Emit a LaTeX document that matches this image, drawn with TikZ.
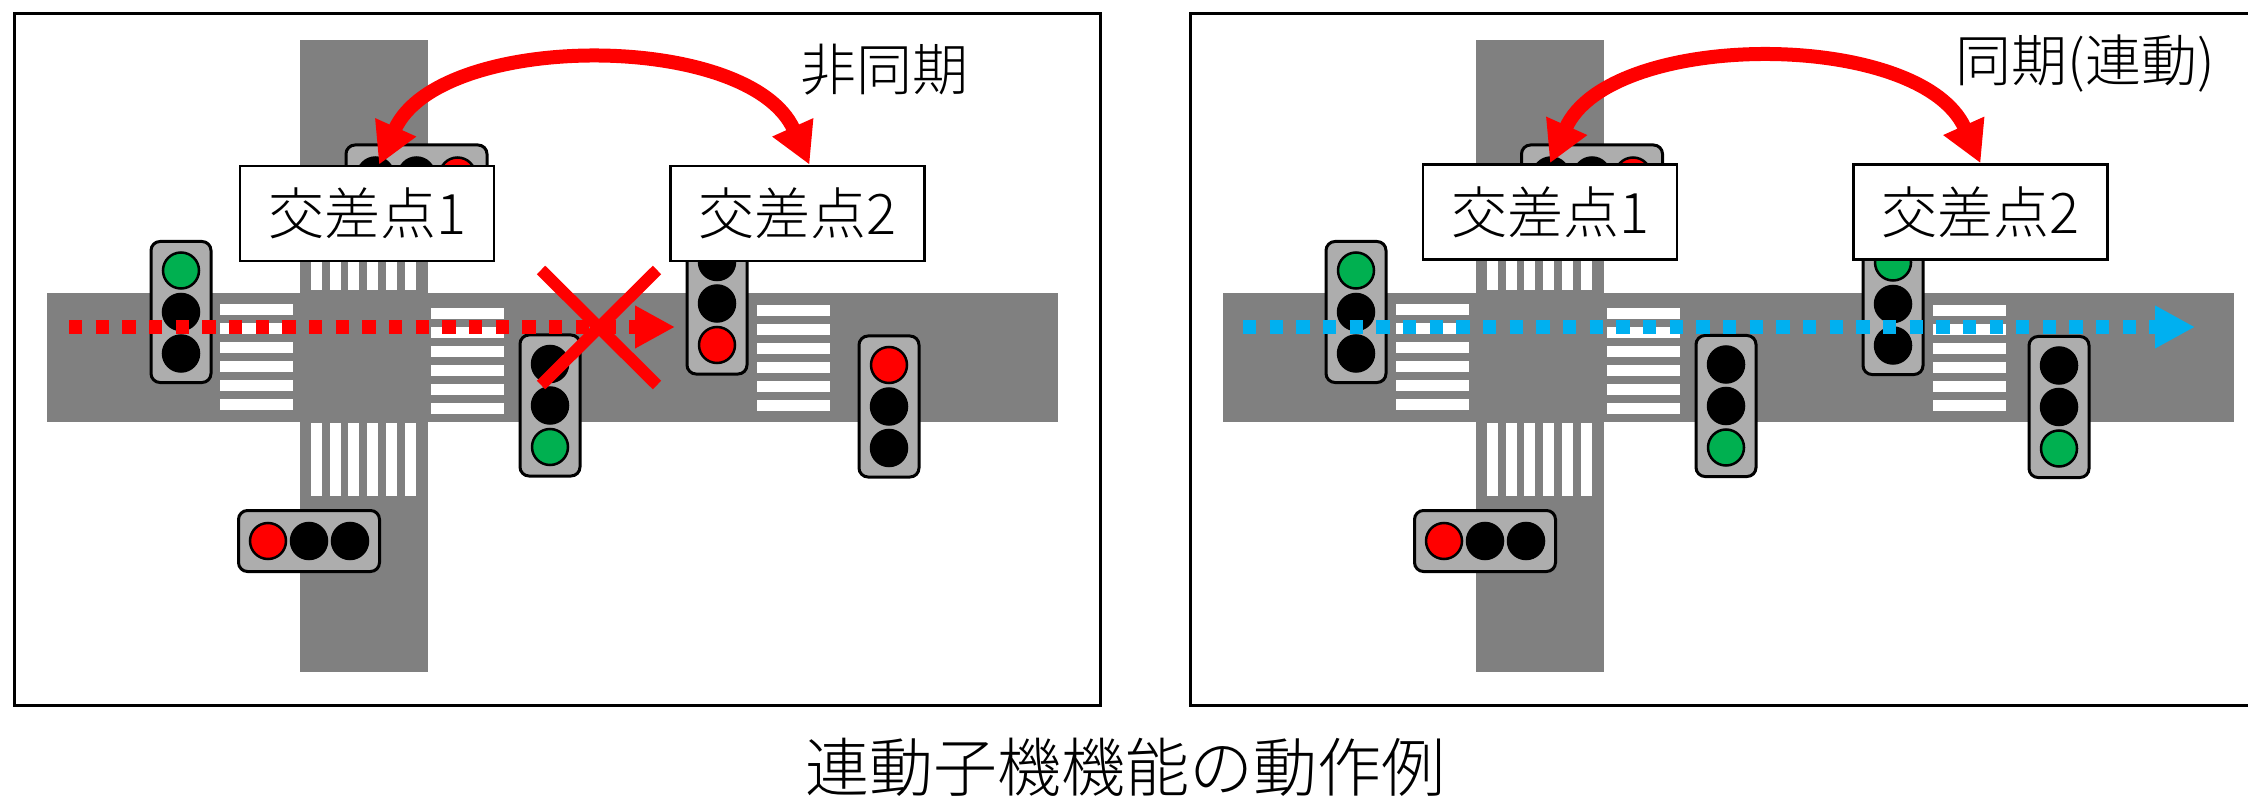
\documentclass[tikz,border=0pt]{standalone}
\usepackage{fontspec}
\setmainfont{Noto Sans CJK JP Light}
\usetikzlibrary{arrows.meta}

\definecolor{roadgray}{RGB}{128,128,128}
\definecolor{housinggray}{RGB}{173,173,173}
\definecolor{sigred}{RGB}{255,0,0}
\definecolor{siggreen}{RGB}{0,176,80}
\definecolor{sigblue}{RGB}{0,176,240}

\tikzset{
  roadarea/.style={fill=roadgray, draw=none},
  zebra/.style={fill=white, draw=none},
  sighousing/.style={fill=housinggray, draw=black, line width=3pt, rounded corners=9pt},
  lamp/.style={fill=#1, draw=black, line width=2.5pt},
  panel/.style={draw=black, line width=3pt},
  namebox/.style={draw=black, line width=2.5pt, fill=white, minimum width=254pt,
    minimum height=95pt, inner sep=0pt, font=\fontsize{56}{60}\selectfont},
  caption/.style={inner sep=0pt, font=\fontsize{56}{60}\selectfont},
  bigcaption/.style={inner sep=0pt, font=\fontsize{64}{70}\selectfont},
  linkarrow/.style={draw=sigred, line width=14pt,
    {Triangle[length=41pt,width=42pt]}-{Triangle[length=41pt,width=42pt]}},
  flowarrow/.style={draw=#1, line width=13.33pt, dash pattern=on 13.33pt off 13.33pt,
    -{Triangle[length=40pt,width=40pt]}},
  cross/.style={draw=sigred, line width=12pt}
}

% vertical signal head: centre x, centre y, top/middle/bottom lamp colours
\newcommand\vsig[5]{%
  \filldraw[sighousing] (#1-30,#2-70.5) rectangle (#1+30,#2+70.5);
  \filldraw[lamp=#3] (#1,#2-41.5) circle[radius=18pt];
  \filldraw[lamp=#4] (#1,#2) circle[radius=18pt];
  \filldraw[lamp=#5] (#1,#2+41.5) circle[radius=18pt];
}
% horizontal signal head: centre x, centre y, left/middle/right lamp colours
\newcommand\hsig[5]{%
  \filldraw[sighousing] (#1-70.5,#2-30.5) rectangle (#1+70.5,#2+30.5);
  \filldraw[lamp=#3] (#1-41,#2) circle[radius=18pt];
  \filldraw[lamp=#4] (#1,#2) circle[radius=18pt];
  \filldraw[lamp=#5] (#1+41,#2) circle[radius=18pt];
}
% zebra crossing across the vertical road: left x, top y, bottom y
\newcommand\vzebra[3]{%
  \foreach \i in {0,...,5}{\fill[zebra] (#1+\i*18.7,#2) rectangle (#1+\i*18.7+11,#3);}
}
% zebra crossing across the horizontal road: left x, top y
\newcommand\hzebra[2]{%
  \foreach \i in {0,...,5}{\fill[zebra] (#1,#2+\i*19) rectangle (#1+73,#2+\i*19+11);}
}
% road layout shared by both panels
\newcommand\streets{%
  \fill[roadarea] (47,293) rectangle (1058,422);
  \fill[roadarea] (300,40) rectangle (428,672);
  \vzebra{311}{258}{290}
  \vzebra{311}{423}{496}
  \hzebra{220}{304}
  \hzebra{431}{308}
  \hzebra{757}{305}
}

\begin{document}
\begin{tikzpicture}[x=1pt,y=-1pt]
\useasboundingbox (0,0) rectangle (2248,799);
\clip (0,0) rectangle (2248,799);

% ---------- left panel: independent control ----------
\draw[panel] (14,14) rectangle (1100,705);
\streets
\vsig{181}{312}{siggreen}{black}{black}
\hsig{416.5}{175.5}{black}{black}{sigred}
\vsig{717}{303.5}{black}{black}{sigred}
\vsig{550}{405.5}{black}{black}{siggreen}
\vsig{889}{406.5}{sigred}{black}{black}
\hsig{309}{541}{sigred}{black}{black}

\node[namebox] (a1) at (367,213.5) {交差点1};
\node[namebox] (a2) at (797.5,213.5) {交差点2};
\node[caption] (aa) at (884,70) {非同期};

\draw[linkarrow] ([xshift=12pt]a1.north) .. controls +(60,-134) and +(-60,-134) .. ([xshift=12pt]a2.north);

\coordinate (as) at (69,327);
\coordinate (ae) at (675,327);
\draw[flowarrow=sigred] (as) -- (ae);
\draw[cross] (541,270) -- (657,385) (657,270) -- (541,385);

% ---------- right panel: coordinated control ----------
\draw[panel] (2270,14) -- (1190,14) -- (1190,705) -- (2270,705);
\begin{scope}[xshift=1176pt]
  \streets
\end{scope}
\vsig{1356}{312}{siggreen}{black}{black}
\hsig{1592}{175.5}{black}{black}{sigred}
\vsig{1893}{304}{siggreen}{black}{black}
\vsig{1726}{406}{black}{black}{siggreen}
\vsig{2059}{407}{black}{black}{siggreen}
\hsig{1485}{541}{sigred}{black}{black}

\node[namebox] (b1) at (1550,212) {交差点1};
\node[namebox] (b2) at (1980.5,212) {交差点2};
\node[caption] (bb) at (2085,64) {同期(連動)};

\draw[linkarrow] (b1.north) .. controls +(60,-134) and +(-60,-134) .. (b2.north);

\coordinate (bs) at (1243,327);
\coordinate (be) at (2195,327);
\draw[flowarrow=sigblue] (bs) -- (be);

% ---------- caption ----------
\node[bigcaption] (title) at (1125,767) {連動子機機能の動作例};
\end{tikzpicture}
\end{document}
